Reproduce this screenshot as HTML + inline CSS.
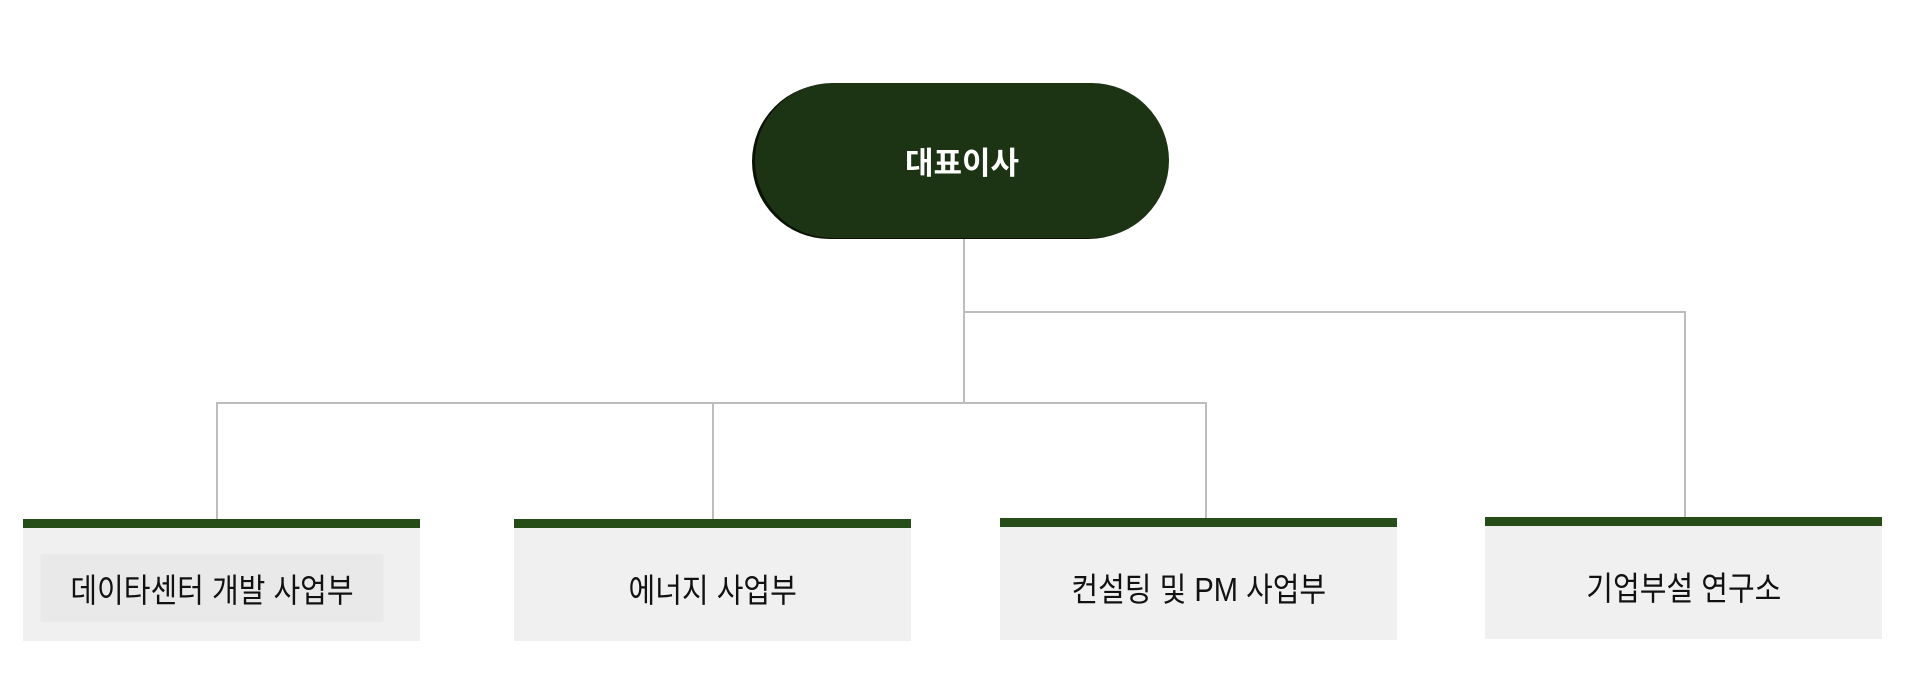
<!DOCTYPE html>
<html><head><meta charset="utf-8"><style>
html,body{margin:0;padding:0;width:1920px;height:675px;background:#fff;overflow:hidden;position:relative;font-family:"Liberation Sans","Noto Sans CJK KR",sans-serif}
.pill{position:absolute;left:755px;top:83px;width:414px;height:155px;border-radius:78px;background:#1c3413;box-shadow:-3px 1px 0 #0a1206;color:#fff;font-weight:bold;font-size:31px;display:flex;align-items:center;justify-content:center}
.ln{position:absolute;background:#bdbdbd}
.box{position:absolute;width:397px;height:107px;padding-top:6px;background:#f0f0f0;border-top:9px solid #264d18;display:flex;align-items:center;justify-content:center;font-size:33px;color:#111}
.box span{display:inline-block;transform:scaleX(0.88);white-space:nowrap}
</style></head><body>
<div class="ln" style="left:963px;top:238px;width:2px;height:166px"></div>
<div class="ln" style="left:964px;top:311px;width:722px;height:2px"></div>
<div class="ln" style="left:1684px;top:311px;width:2px;height:207px"></div>
<div class="ln" style="left:216px;top:402px;width:991px;height:2px"></div>
<div class="ln" style="left:216px;top:402px;width:2px;height:118px"></div>
<div class="ln" style="left:712px;top:402px;width:2px;height:118px"></div>
<div class="ln" style="left:1205px;top:402px;width:2px;height:118px"></div>
<div class="pill">대표이사</div>
<div class="box" style="left:23px;top:519px"><span style="background:#e9e9e9;padding:10px 34px;transform:translateX(-10px) scaleX(0.88)">데이타센터 개발 사업부</span></div>
<div class="box" style="left:514px;top:519px"><span>에너지 사업부</span></div>
<div class="box" style="left:1000px;top:518px"><span>컨설팅 및 PM 사업부</span></div>
<div class="box" style="left:1485px;top:517px"><span>기업부설 연구소</span></div>
</body></html>
